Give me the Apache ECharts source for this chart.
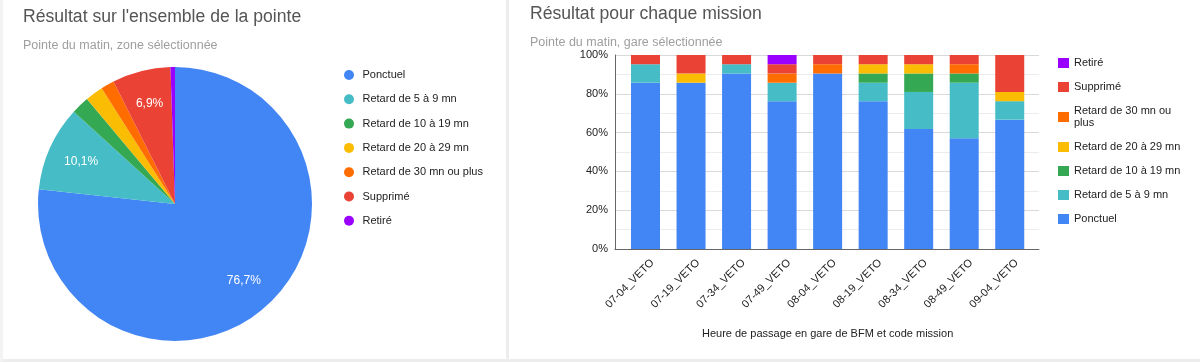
<!DOCTYPE html>
<html>
<head>
<meta charset="utf-8">
<script src="https://cdn.jsdelivr.net/npm/echarts@6/dist/echarts.min.js"></script>
<style>
html,body{margin:0;padding:0;background:#fff;}
#c{width:1200px;height:362px;}
</style>
</head>
<body>
<div id="c"></div>
<script>
// ---- Data (counts over 21 days per mission) ----
var categories = ['Ponctuel', 'Retard de 5 à 9 mn', 'Retard de 10 à 19 mn', 'Retard de 20 à 29 mn', 'Retard de 30 mn ou plus', 'Supprimé', 'Retiré'];
var colors = ['#4285F4', '#46BDC6', '#34A853', '#FBBC04', '#FF6D01', '#EA4335', '#9900FF'];
var missions = ['07-04_VETO', '07-19_VETO', '07-34_VETO', '07-49_VETO', '08-04_VETO', '08-19_VETO', '08-34_VETO', '08-49_VETO', '09-04_VETO'];
var ponctuel = [18, 18, 19, 16, 19, 16, 13, 12, 14];
var retard5_9 = [2, 0, 1, 2, 0, 2, 4, 6, 2];
var retard10_19 = [0, 0, 0, 0, 0, 1, 2, 1, 0];
var retard20_29 = [0, 1, 0, 0, 0, 1, 1, 0, 1];
var retard30 = [0, 0, 0, 1, 1, 0, 0, 1, 0];
var supprime = [1, 2, 1, 1, 1, 1, 1, 1, 4];
var retire = [0, 0, 0, 1, 0, 0, 0, 0, 0];
var pieValues = [145, 19, 4, 4, 3, 13, 1];
var yTicks = [0, 20, 40, 60, 80, 100];

var FONT = 'Liberation Sans, Arial, sans-serif';
var seriesCounts = [ponctuel, retard5_9, retard10_19, retard20_29, retard30, supprime, retire];
var totals = missions.map(function (m, i) {
  var s = 0; seriesCounts.forEach(function (a) { s += a[i]; }); return s;
});

var chart = echarts.init(document.getElementById('c'), null, {renderer: 'canvas'});

var barSeries = categories.map(function (name, k) {
  return {
    type: 'bar', name: name, stack: 'all', xAxisIndex: 1, yAxisIndex: 1,
    barWidth: 29,
    itemStyle: {color: colors[k]},
    data: seriesCounts[k].map(function (v, i) { return v / totals[i] * 100; }),
    silent: true
  };
});

var option = {
  backgroundColor: '#fff',
  animation: false,
  textStyle: {fontFamily: FONT},
  title: [
    {text: "Résultat sur l'ensemble de la pointe", left: 23, top: 8, padding: 0,
      textStyle: {fontFamily: FONT, fontSize: 17.6, fontWeight: 'normal', color: '#555'}},
    {text: 'Pointe du matin, zone sélectionnée', left: 23, top: 39, padding: 0,
      textStyle: {fontFamily: FONT, fontSize: 12.5, fontWeight: 'normal', color: '#9e9e9e'}},
    {text: 'Résultat pour chaque mission', left: 530, top: 5, padding: 0,
      textStyle: {fontFamily: FONT, fontSize: 17.6, fontWeight: 'normal', color: '#555'}},
    {text: 'Pointe du matin, gare sélectionnée', left: 530, top: 36, padding: 0,
      textStyle: {fontFamily: FONT, fontSize: 12.5, fontWeight: 'normal', color: '#9e9e9e'}}
  ],
  legend: [
    {
      orient: 'vertical', left: 344, top: 69, padding: 0,
      icon: 'circle', itemWidth: 17, itemHeight: 10, itemGap: 12.3,
      selectedMode: false,
      textStyle: {fontFamily: FONT, fontSize: 11, lineHeight: 12, color: '#222'},
      data: categories.slice()
    },
    {
      orient: 'vertical', left: 1058, top: 57, padding: 0,
      icon: 'rect', itemWidth: 11, itemHeight: 10, itemGap: 12,
      selectedMode: false,
      textStyle: {fontFamily: FONT, fontSize: 11, lineHeight: 12, color: '#222'},
      formatter: function (n) { return n === 'Retard de 30 mn ou plus' ? 'Retard de 30 mn ou\nplus' : n; },
      data: categories.slice().reverse()
    }
  ],
  grid: [
    {left: 615, top: 55, width: 424, height: 194},
    {left: 622.75, top: 55, width: 409.75, height: 194},
    {left: 629.75, top: 55, width: 409.75, height: 194}
  ],
  xAxis: [
    {gridIndex: 0, type: 'value', min: 0, max: 1,
      axisLine: {show: true, lineStyle: {color: '#666'}}, axisTick: {show: false},
      axisLabel: {show: false}, splitLine: {show: false}},
    {gridIndex: 1, type: 'category', data: missions,
      axisLine: {show: false}, axisTick: {show: false},
      axisLabel: {show: false},
      name: 'Heure de passage en gare de BFM et code mission',
      nameLocation: 'middle', nameGap: 79,
      nameTextStyle: {fontSize: 11, color: '#222', fontFamily: FONT}},
    {gridIndex: 2, type: 'category', data: missions,
      axisLine: {show: false}, axisTick: {show: false}, splitLine: {show: false},
      axisLabel: {interval: 0, rotate: 45, fontSize: 11, color: '#222', margin: 12, fontFamily: FONT}}
  ],
  yAxis: [
    {gridIndex: 0, type: 'value', min: yTicks[0], max: yTicks[yTicks.length - 1], interval: yTicks[1] - yTicks[0],
      axisLine: {show: true, lineStyle: {color: '#666'}}, axisTick: {show: false},
      axisLabel: {formatter: '{value}%', fontSize: 11, color: '#222', margin: 7, fontFamily: FONT},
      splitLine: {show: true, lineStyle: {color: '#d9d9d9'}},
      minorTick: {show: false, splitNumber: 2},
      minorSplitLine: {show: true, lineStyle: {color: '#ececec'}}},
    {gridIndex: 1, type: 'value', min: 0, max: 100, show: false},
    {gridIndex: 2, type: 'value', min: 0, max: 100, show: false}
  ],
  series: [
    {
      type: 'pie', name: 'ensemble', center: [175, 204], radius: [0, 137],
      startAngle: 90, clockwise: true, avoidLabelOverlap: false, silent: true,
      label: {show: false}, labelLine: {show: false},
      itemStyle: {borderWidth: 0},
      data: categories.map(function (c, k) { return {name: c, value: pieValues[k], itemStyle: {color: colors[k]}}; })
    },
    {
      type: 'pie', name: 'labels', center: [175, 204], radius: [0, 200],
      startAngle: 90, clockwise: true, avoidLabelOverlap: false, silent: true,
      percentPrecision: 1, z: 5,
      itemStyle: {color: 'rgba(0,0,0,0)', borderWidth: 0},
      labelLine: {show: false},
      label: {show: true, position: 'inside', color: '#fff', fontSize: 12, fontFamily: FONT,
        formatter: function (p) { return p.percent >= 5 ? String(p.percent).replace('.', ',') + '%' : ''; }},
      data: categories.map(function (c, k) { return {name: 'lbl_' + k, value: pieValues[k]}; })
    }
  ].concat(barSeries),
  graphic: [
    {type: 'rect', shape: {x: 506, y: 0, width: 3, height: 362}, style: {fill: '#ededed'}, silent: true},
    {type: 'rect', shape: {x: 0, y: 359, width: 1200, height: 3}, style: {fill: '#ededed'}, silent: true},
    {type: 'rect', shape: {x: 0, y: 0, width: 3, height: 362}, style: {fill: '#f3f3f3'}, silent: true}
  ]
};
chart.setOption(option);
</script>
</body>
</html>
